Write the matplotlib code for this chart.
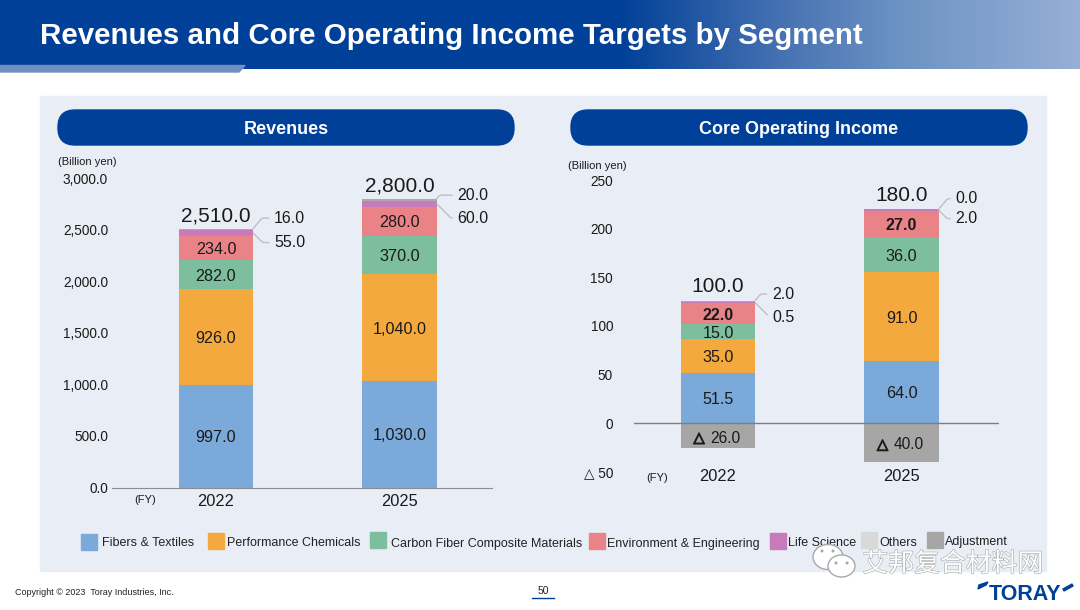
import numpy as np
import matplotlib
matplotlib.use("Agg")
from matplotlib import pyplot as plt
from matplotlib.patches import Rectangle, FancyBboxPatch, Ellipse, Polygon
import matplotlib.patheffects as pe

plt.rcParams["font.family"] = ["Liberation Sans", "DejaVu Sans"]

W, H = 1080, 610

years = ["2022", "2025"]
segments = ["Fibers & Textiles", "Performance Chemicals", "Carbon Fiber Composite Materials",
            "Environment & Engineering", "Life Science", "Others", "Adjustment"]
colors = ["#7BA9DA", "#F4A93F", "#7DBE9F", "#E98387", "#C77BBB", "#D9D9D9", "#A6A6A6"]
OTHERS_BAR = "#ABABAB"

rev_fibers = [997.0, 1030.0]
rev_chem = [926.0, 1040.0]
rev_carbon = [282.0, 370.0]
rev_env = [234.0, 280.0]
rev_life = [55.0, 60.0]
rev_others = [16.0, 20.0]
rev_total = [2510.0, 2800.0]

core_fibers = [51.5, 64.0]
core_chem = [35.0, 91.0]
core_carbon = [15.0, 36.0]
core_env = [22.0, 27.0]
core_life = [0.5, 2.0]
core_others = [2.0, 0.0]
core_adjust = [-26.0, -40.0]
core_total = [100.0, 180.0]

rev_ticks = [0, 500, 1000, 1500, 2000, 2500, 3000]
core_ticks = [-50, 0, 50, 100, 150, 200, 250]

TEXT = "#1a1a1a"
PX = 72 / 100  # points per pixel
VA = "center_baseline"


def px_axes(fig, x0, x1, y_top, y_bottom):
    return fig.add_axes([x0 / W, 1 - y_bottom / H, (x1 - x0) / W, (y_bottom - y_top) / H])


def draw_stack(ax, stack, others_dy, life_dy, label_dx, bold_env=False):
    x = np.arange(len(years))
    width = 0.405
    bottom = np.zeros(len(years))
    for i, vals in enumerate(stack):
        col = OTHERS_BAR if i == 5 else colors[i]
        ax.bar(x, vals, width, bottom=bottom, color=col, edgecolor="none", zorder=2)
        if i < 4:
            for j, v in enumerate(vals):
                weight = "bold" if bold_env and i == 3 else "normal"
                ax.text(x[j], bottom[j] + v / 2, f"{v:,.1f}", ha="center", va=VA,
                        fontsize=11.6, color=TEXT, weight=weight, zorder=4)
        bottom = bottom + np.array(vals)

    # small segments get leader lines to the right of the bar
    life_mid = bottom - np.array(stack[5]) - np.array(stack[4]) / 2
    for j in range(len(years)):
        for val, y, dy, ang in [(stack[5][j], bottom[j], others_dy[j], 50),
                                (stack[4][j], life_mid[j], life_dy[j], -45)]:
            ax.annotate(f"{val:,.1f}", xy=(x[j] + width / 2, y), xytext=(label_dx * PX, -dy * PX),
                        textcoords="offset points", ha="left", va=VA, fontsize=11.5, color=TEXT,
                        arrowprops=dict(arrowstyle="-", color="#BFBFBF", lw=1, shrinkA=2, shrinkB=0,
                                        relpos=(0, 0.5),
                                        connectionstyle=f"angle,angleA=0,angleB={ang},rad=2"),
                        zorder=4)
    return bottom


fig = plt.figure(figsize=(W / 100, H / 100), dpi=100, facecolor="white")

# slide background, drawn in pixel coordinates
bg = fig.add_axes([0, 0, 1, 1], zorder=0)
bg.set_xlim(0, W)
bg.set_ylim(H, 0)
bg.axis("off")

grad = np.ones((1, 540, 3))
stops_x = [0, 620, 780, 900, 1080]
stops_c = np.array([[0, 64, 152], [0, 64, 152], [70, 113, 178], [108, 147, 196], [150, 175, 214]]) / 255
xs = np.linspace(0, 1080, 540)
for c in range(3):
    grad[0, :, c] = np.interp(xs, stops_x, stops_c[:, c])
bg.imshow(grad, extent=(0, W, 69, 0), aspect="auto", zorder=1)
bg.set_xlim(0, W)
bg.set_ylim(H, 0)
bg.add_patch(Polygon([(0, 65.5), (245, 65.5), (239, 72), (0, 72)], color="#7190C0", zorder=2))
bg.text(40, 33, "Revenues and Core Operating Income Targets by Segment", color="white", weight="bold",
        fontsize=21.25, va=VA, ha="left", zorder=3)

bg.add_patch(Rectangle((40, 96), 1006, 475, color="#E9EEF6", zorder=1))
for x0, x1, name in [(58, 514, "Revenues"), (571, 1027, "Core Operating Income")]:
    bg.add_patch(FancyBboxPatch((x0 + 17, 110 + 17), x1 - x0 - 34, 1, boxstyle="round,pad=17,rounding_size=17",
                                color="#004098", zorder=2))
    bg.text((x0 + x1) / 2, 127, name, color="white", weight="bold", fontsize=13, ha="center", va=VA, zorder=3)

# legend, swatches and labels sit where the slide author dragged them
swatch_x = [81, 208, 370, 589, 770, 861, 927]
swatch_y = [534, 533, 532, 533, 533, 532, 532]
label_x = [102, 227, 391, 607, 788, 879, 945]
label_y = [541, 541, 543, 542, 542, 541, 540]
for i, name in enumerate(segments):
    bg.add_patch(Rectangle((swatch_x[i], swatch_y[i]), 15.5, 16, color=colors[i], zorder=2))
    bg.text(label_x[i], label_y[i], name, fontsize=9, color="#222222", ha="left", va=VA, zorder=3)

bg.text(15, 591.5, "Copyright © 2023  Toray Industries, Inc.", fontsize=6.45, color="#222222", va=VA)
bg.text(543, 589.5, "50", fontsize=7.5, color="#222222", ha="center", va=VA)
bg.plot([532, 554], [598, 598], color="#004098", lw=1)
bg.text(1025, 592.5, "TORAY", fontsize=15.5, weight="bold", color="#004098", ha="center", va=VA)
bg.add_patch(Polygon([(978, 589), (979, 585), (988, 582), (986, 585)], color="#004098", zorder=3))
bg.add_patch(Polygon([(1063, 589), (1072, 584), (1073, 586), (1064, 591)], color="#004098", zorder=3))

# watermark
outline = [pe.withStroke(linewidth=0.8, foreground="#a8a8a8")]
bg.add_patch(Ellipse((828, 557), 30, 25, fc="white", ec="#a8a8a8", lw=1, zorder=5))
bg.add_patch(Ellipse((841.5, 566), 27, 22, fc="white", ec="#a8a8a8", lw=1, zorder=5))
for ex, ey in [(822, 551), (833, 551), (836, 563), (847, 563)]:
    bg.add_patch(Ellipse((ex, ey), 3, 3, fc="#a8a8a8", ec="none", zorder=6))
bg.text(953, 561, "艾邦复合材料网", family=["Noto Sans CJK SC", "DejaVu Sans"], fontsize=18.6, color="white",
        ha="center", va=VA, path_effects=outline, zorder=5)

# revenues
ax1 = px_axes(fig, 112, 492, 178, 487.5)
ax1.patch.set_alpha(0)
ax1.set_ylim(0, 3000)
ax1.set_xlim(-0.567, 1.504)
rev_stack = [rev_fibers, rev_chem, rev_carbon, rev_env, rev_life, rev_others]
tops = draw_stack(ax1, rev_stack, [-12, -5], [8, 13], 21)
for j, t in enumerate(rev_total):
    ax1.annotate(f"{t:,.1f}", xy=(j, tops[j]), xytext=(0, 15 * PX), textcoords="offset points",
                 ha="center", va=VA, fontsize=15, color=TEXT)
ax1.set_yticks(rev_ticks, [f"{v:,.1f}" for v in rev_ticks], fontsize=9.8, color=TEXT)
ax1.set_xticks(range(len(years)), years, fontsize=11.8, color=TEXT)
ax1.tick_params(axis="both", length=0)
ax1.tick_params(axis="y", pad=4 * PX)
ax1.tick_params(axis="x", pad=7 * PX)
for s in ["top", "right", "left"]:
    ax1.spines[s].set_visible(False)
ax1.spines["bottom"].set_color("#8c8c8c")
bg.text(58, 161, "(Billion yen)", fontsize=8, color=TEXT, va=VA)
bg.text(134, 499, "(FY)", fontsize=8, color=TEXT, va=VA)

# core operating income
ax2 = px_axes(fig, 634, 999, 180, 471.6)
ax2.patch.set_alpha(0)
ax2.set_ylim(-50, 250)
ax2.set_xlim(-0.458, 1.531)
core_stack = [core_fibers, core_chem, core_carbon, core_env, core_life, core_others]
tops = draw_stack(ax2, core_stack, [-8, -12], [13, 7], 17, bold_env=True)
ax2.bar(range(len(years)), core_adjust, 0.405, color=colors[6], edgecolor="none", zorder=2)
for j, v in enumerate(core_adjust):
    ax2.annotate("△", xy=(j, v / 2), xytext=(-19 * PX, -1 * PX), textcoords="offset points", ha="center",
                 va=VA, fontsize=10.5, weight="bold", color=TEXT, zorder=4,
                 path_effects=[pe.withStroke(linewidth=0.8, foreground=TEXT)])
    ax2.annotate(f"{-v:,.1f}", xy=(j, v / 2), xytext=(7 * PX, -1 * PX), textcoords="offset points", ha="center",
                 va=VA, fontsize=11.2, color=TEXT, zorder=4)
for j, t in enumerate(core_total):
    ax2.annotate(f"{t:,.1f}", xy=(j, tops[j]), xytext=(0, 16 * PX), textcoords="offset points",
                 ha="center", va=VA, fontsize=15, color=TEXT)
ax2.axhline(0, color="#7f7f7f", lw=1, zorder=3)
ax2.set_yticks(core_ticks, [f"△ {-v}" if v < 0 else str(v) for v in core_ticks], fontsize=9.8, color=TEXT)
ax2.set_xticks(range(len(years)), years, fontsize=11.8, color=TEXT)
ax2.tick_params(axis="both", length=0)
ax2.tick_params(axis="y", pad=21 * PX)
ax2.tick_params(axis="x", pad=-3 * PX)
for s in ax2.spines.values():
    s.set_visible(False)
bg.text(568, 165, "(Billion yen)", fontsize=8, color=TEXT, va=VA)
bg.text(646, 477, "(FY)", fontsize=8, color=TEXT, va=VA)

fig.savefig("out.png", dpi=100)
